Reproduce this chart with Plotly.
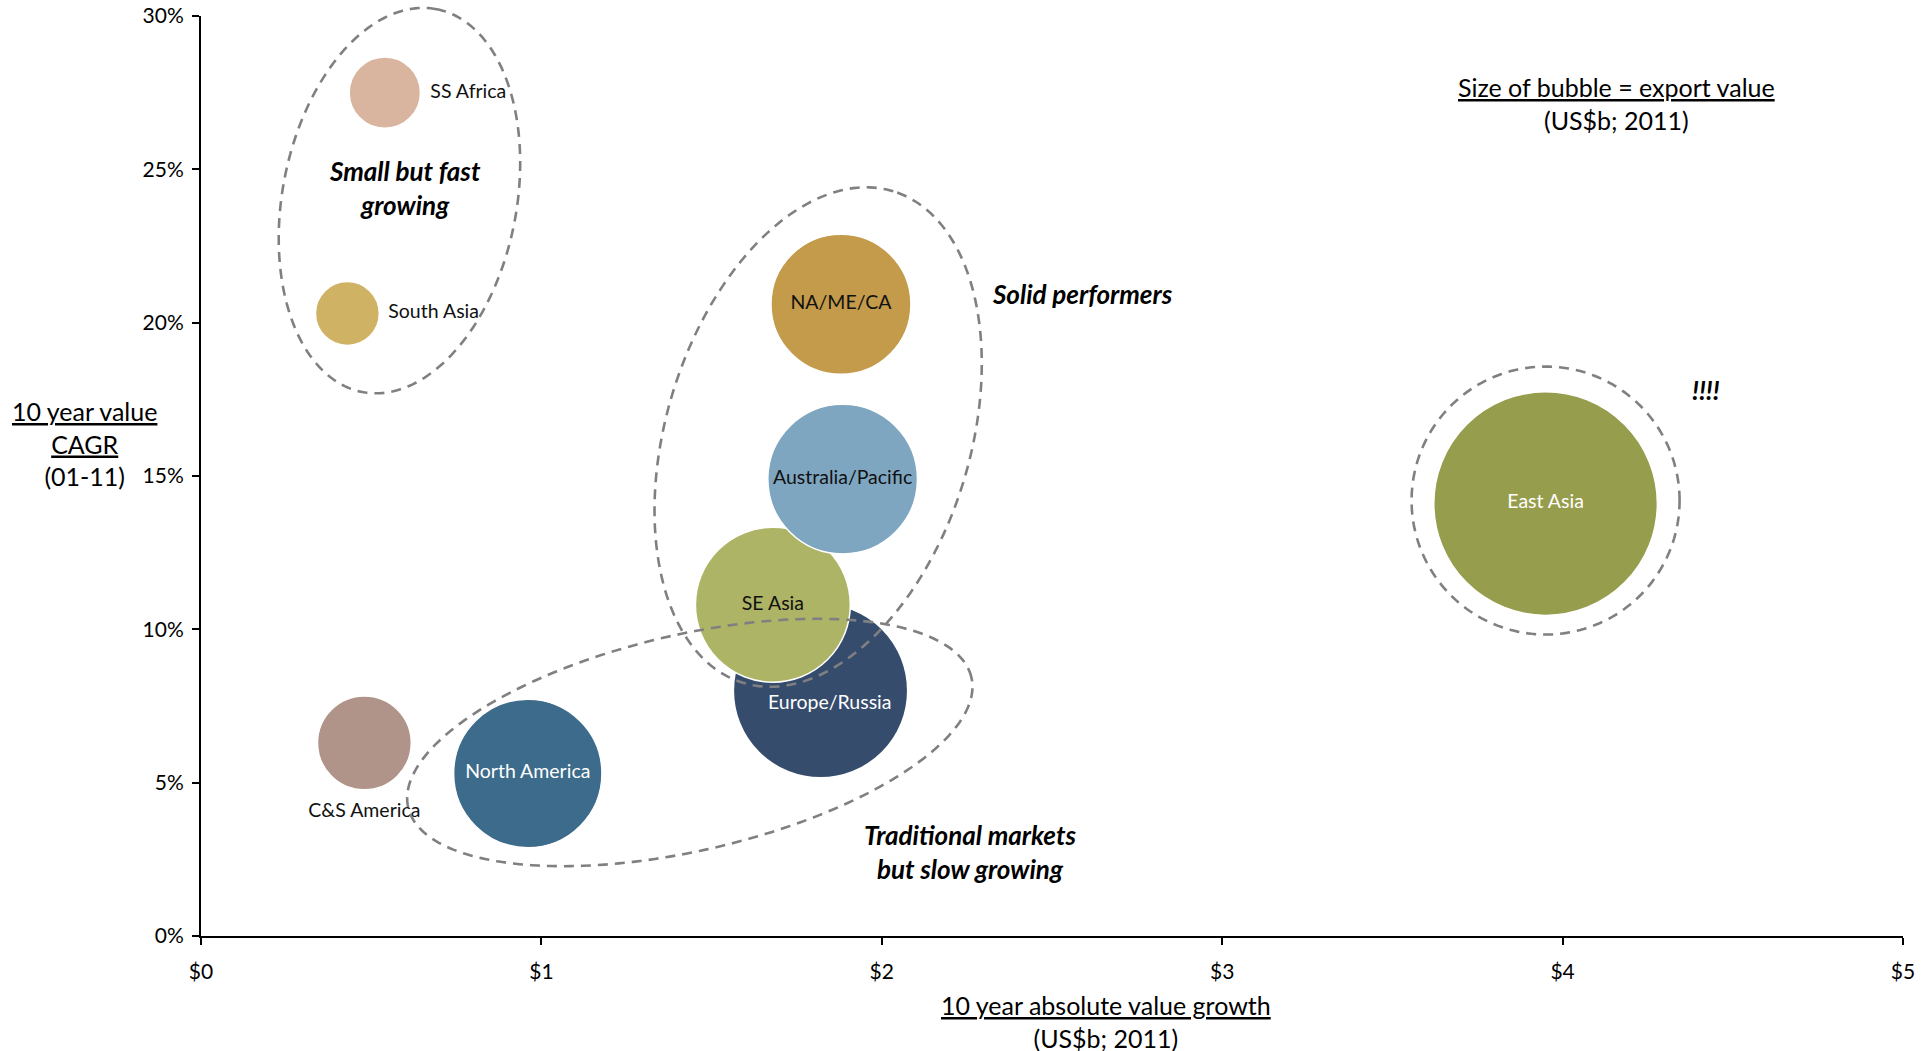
import numpy as np
import plotly.graph_objects as go

# ---------------- data ----------------
regions = ["SS Africa", "South Asia", "NA/ME/CA", "Europe/Russia", "SE Asia",
           "Australia/Pacific", "C&S America", "North America", "East Asia"]
abs_growth = [0.54, 0.43, 1.88, 1.82, 1.68, 1.885, 0.48, 0.96, 3.95]      # US$b
cagr = [27.5, 20.3, 20.6, 8.0, 10.8, 14.9, 6.3, 5.3, 14.1]                # %
export_value = [1.27, 1.02, 4.9, 7.6, 6.0, 5.6, 2.2, 5.5, 12.5]           # US$b (bubble size)
colors = ["#D9B5A0", "#CFB263", "#C49B4B", "#364C6D", "#ADB465",
          "#7EA6C0", "#B09389", "#3C6B8B", "#969D4C"]
label_colors = ["#111111", "#111111", "#111111", "#FFFFFF", "#111111",
                "#111111", "#111111", "#FFFFFF", "#FFFFFF"]
label_pos = ["middle right", "middle right", "middle center", "middle center",
             "middle center", "middle center", "bottom center", "middle center",
             "middle center"]
# labels drawn as offset annotations instead of centred trace text
offset_labels = {"Europe/Russia": (9, -11)}

x_ticks = [0, 1, 2, 3, 4, 5]
y_ticks = [0, 5, 10, 15, 20, 25, 30]

# group ellipses: centre (data), semi-axes (px), angle of major axis (deg)
ell_cx = [0.583, 1.813, 1.436, 3.95]
ell_cy = [23.98, 16.27, 6.31, 14.2]
ell_a = [195, 257, 289, 134]
ell_b = [117, 152, 108, 134]
ell_ang = [79, 73, 13, 0]

# ---------------- layout geometry ----------------
W, H = 1931, 1051
ML, MR, MT, MB = 201, 28, 16, 115
PW, PH = W - ML - MR, H - MT - MB
XR, YR = 5.0, 30.0

FONT = "Lato"
fig = go.Figure()

trace_text = ["" if r in offset_labels else r for r in regions]

# bubbles
fig.add_trace(go.Scatter(
    x=abs_growth, y=cagr, mode="markers+text",
    text=trace_text, textposition=label_pos,
    textfont=dict(family=FONT, size=19.5, color=label_colors),
    marker=dict(size=export_value, sizemode="area", sizeref=0.0005,
                color=colors, opacity=1, line=dict(color="white", width=1.5)),
    hoverinfo="skip", cliponaxis=False, showlegend=False))

for i, r in enumerate(regions):
    if r in offset_labels:
        xs, ys = offset_labels[r]
        fig.add_annotation(x=abs_growth[i], y=cagr[i], xref="x", yref="y", text=r,
                           showarrow=False, xshift=xs, yshift=ys,
                           xanchor="center", yanchor="middle",
                           font=dict(family=FONT, size=19.5, color=label_colors[i]))

# dashed group ellipses (paper-referenced so they are not clipped at the top)
t = np.linspace(0, 2 * np.pi, 241)
for cx, cy, a, b, ang in zip(ell_cx, ell_cy, ell_a, ell_b, ell_ang):
    phi = np.deg2rad(ang)
    u, v = a * np.cos(t), b * np.sin(t)
    dx = u * np.cos(phi) - v * np.sin(phi)
    dy = u * np.sin(phi) + v * np.cos(phi)
    px = cx / XR + dx / PW
    py = cy / YR + dy / PH
    path = "M " + " L ".join(f"{xx:.5f},{yy:.5f}" for xx, yy in zip(px, py)) + " Z"
    fig.add_shape(type="path", path=path, xref="paper", yref="paper",
                  line=dict(color="#808080", width=2.6, dash="10px,7px"),
                  layer="above")

ann_font = dict(family=FONT, size=26, color="black")
annots = [
    dict(x=0.60, y=24.38, text="<b><i>Small but fast<br>growing</i></b>"),
    dict(x=2.59, y=20.92, text="<b><i>Solid performers</i></b>"),
    dict(x=2.258, y=2.73, text="<b><i>Traditional markets<br>but slow growing</i></b>"),
    dict(x=4.42, y=17.79, text="<b><i>!!!!</i></b>"),
]
for an in annots:
    fig.add_annotation(**an, xref="x", yref="y", showarrow=False, font=ann_font,
                       xanchor="center", yanchor="middle")

fig.add_annotation(x=4.157, y=27.15, xref="x", yref="y", showarrow=False,
                   xanchor="center", yanchor="middle",
                   text="<u>Size of bubble = export value</u><br>(US$b; 2011)",
                   font=dict(family=FONT, size=25, color="black"))
fig.add_annotation(x=-0.0687, y=0.5355, xref="paper", yref="paper", showarrow=False,
                   xanchor="center", yanchor="middle",
                   text="<u>10 year value</u><br><u>CAGR</u><br>(01-11)",
                   font=dict(family=FONT, size=25, color="black"))
fig.add_annotation(x=0.532, y=-0.0924, xref="paper", yref="paper", showarrow=False,
                   xanchor="center", yanchor="middle",
                   text="<u>10 year absolute value growth</u><br>(US$b; 2011)",
                   font=dict(family=FONT, size=25, color="black"))

axis_common = dict(showgrid=False, zeroline=False, showline=True, linecolor="black",
                   linewidth=2, ticks="outside", ticklen=7, tickwidth=1.5,
                   tickcolor="black", tickfont=dict(family=FONT, size=21, color="black"),
                   fixedrange=True, automargin=False)
fig.update_xaxes(range=[0, XR], tickvals=x_ticks, ticklabelstandoff=9,
                 ticktext=[f"${v}" for v in x_ticks], **axis_common)
fig.update_yaxes(range=[0, YR], tickvals=y_ticks, ticklabelstandoff=4,
                 ticktext=[f"{v}%" for v in y_ticks], **axis_common)

fig.update_layout(width=W, height=H, margin=dict(l=ML, r=MR, t=MT, b=MB, autoexpand=False),
                  plot_bgcolor="white", paper_bgcolor="white",
                  font=dict(family=FONT, color="black"))

fig.write_html("out.html")
